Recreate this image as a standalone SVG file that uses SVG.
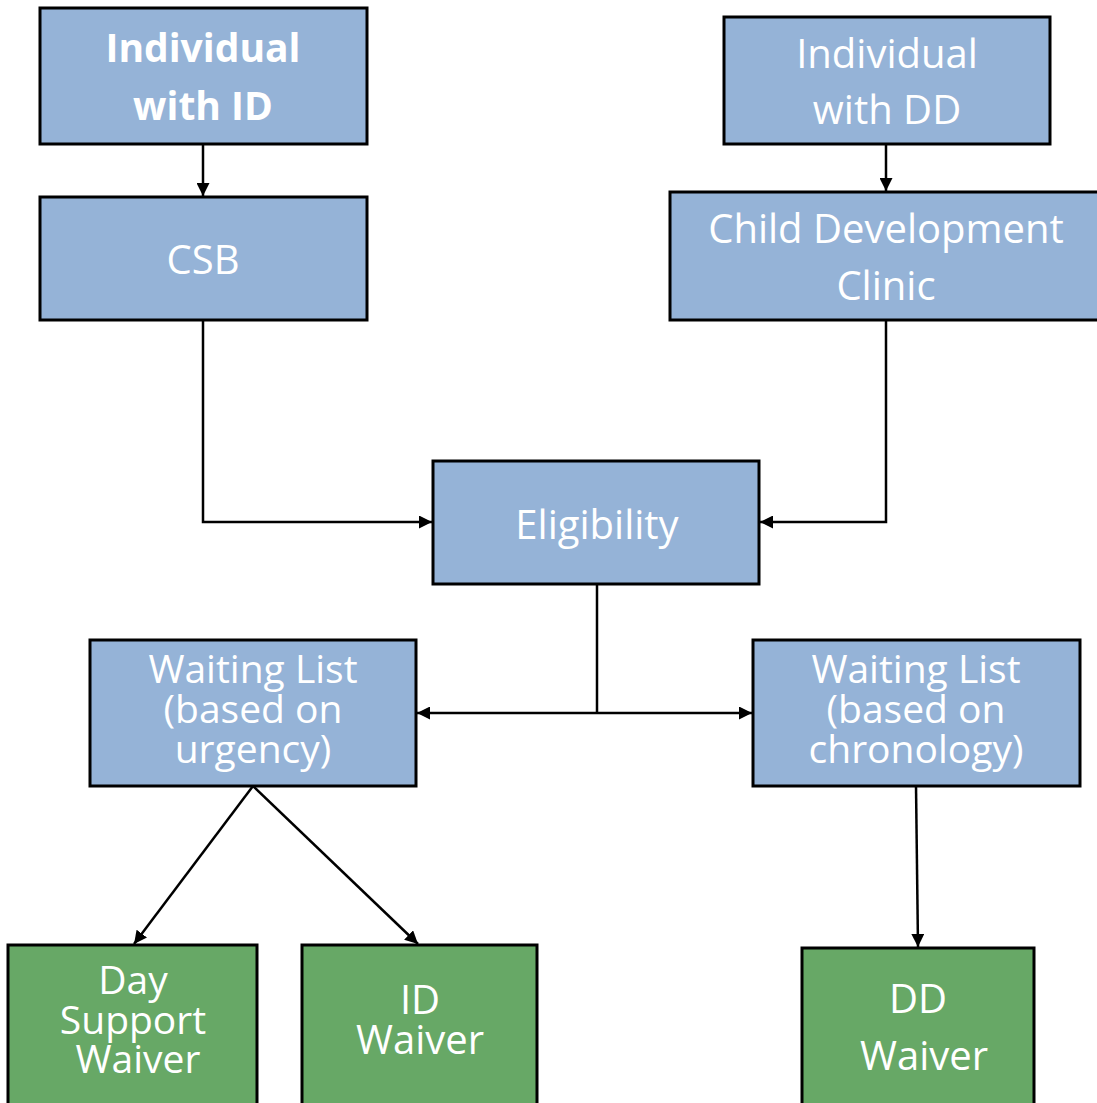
<svg xmlns="http://www.w3.org/2000/svg" width="1097" height="1103" viewBox="0 0 1097 1103">
  <style>
    .blue { fill: #95b3d7; stroke: #000; stroke-width: 3; }
    .green { fill: #67a866; stroke: #000; stroke-width: 3; }
    text { font-family: "Open Sans", "Liberation Sans", sans-serif; font-size: 40px; fill: #fff; text-anchor: middle; }
    .bold { font-weight: bold; font-size: 39px; }
    .tight { font-size: 39px; }
    .link { fill: none; stroke: #000; stroke-width: 2.5; }
  </style>
  <defs>
    <marker id="arrow" viewBox="0 0 10 10" refX="10" refY="5" markerWidth="13" markerHeight="13" markerUnits="userSpaceOnUse" orient="auto">
      <path d="M0,0 L10,5 L0,10 z" fill="#000"/>
    </marker>
  </defs>

  <g id="connectors">
    <line class="link" x1="203" y1="144" x2="203" y2="196" marker-end="url(#arrow)"/>
    <line class="link" x1="886" y1="144" x2="886" y2="191" marker-end="url(#arrow)"/>
    <polyline class="link" points="203,320 203,522 432,522" marker-end="url(#arrow)"/>
    <polyline class="link" points="886,320 886,522 760,522" marker-end="url(#arrow)"/>
    <line class="link" x1="597" y1="584" x2="597" y2="713"/>
    <line class="link" x1="597" y1="713" x2="417" y2="713" marker-end="url(#arrow)"/>
    <line class="link" x1="597" y1="713" x2="752" y2="713" marker-end="url(#arrow)"/>
    <line class="link" x1="253" y1="786" x2="134" y2="944" marker-end="url(#arrow)"/>
    <line class="link" x1="253" y1="786" x2="418" y2="944" marker-end="url(#arrow)"/>
    <line class="link" x1="916" y1="786" x2="918" y2="947" marker-end="url(#arrow)"/>
  </g>

  <g id="individual-id">
    <rect class="blue" x="40" y="8" width="327" height="136"/>
    <text class="bold" x="203" y="62">Individual</text>
    <text class="bold" x="203" y="120">with ID</text>
  </g>
  <g id="csb">
    <rect class="blue" x="40" y="197" width="327" height="123"/>
    <text x="203" y="274">CSB</text>
  </g>
  <g id="individual-dd">
    <rect class="blue" x="724" y="17" width="326" height="127"/>
    <text x="887" y="68">Individual</text>
    <text x="887" y="124">with DD</text>
  </g>
  <g id="child-development-clinic">
    <rect class="blue" x="670" y="192" width="430" height="128"/>
    <text x="886" y="243">Child Development</text>
    <text x="886" y="300">Clinic</text>
  </g>
  <g id="eligibility">
    <rect class="blue" x="433" y="461" width="326" height="123"/>
    <text x="597" y="539">Eligibility</text>
  </g>
  <g id="waiting-urgency">
    <rect class="blue" x="90" y="640" width="326" height="146"/>
    <text class="tight" x="253" y="683">Waiting List</text>
    <text class="tight" x="253" y="723">(based on</text>
    <text class="tight" x="253" y="763">urgency)</text>
  </g>
  <g id="waiting-chronology">
    <rect class="blue" x="753" y="640" width="327" height="146"/>
    <text class="tight" x="916" y="683">Waiting List</text>
    <text class="tight" x="916" y="723">(based on</text>
    <text class="tight" x="916" y="763">chronology)</text>
  </g>
  <g id="day-support-waiver">
    <rect class="green" x="8" y="945" width="249" height="165"/>
    <text class="tight" x="133" y="994">Day</text>
    <text class="tight" x="133" y="1034">Support</text>
    <text class="tight" x="138" y="1073">Waiver</text>
  </g>
  <g id="id-waiver">
    <rect class="green" x="302" y="945" width="235" height="165"/>
    <text x="420" y="1014">ID</text>
    <text x="420" y="1054">Waiver</text>
  </g>
  <g id="dd-waiver">
    <rect class="green" x="802" y="948" width="232" height="165"/>
    <text x="918" y="1013">DD</text>
    <text x="924" y="1070">Waiver</text>
  </g>
</svg>
